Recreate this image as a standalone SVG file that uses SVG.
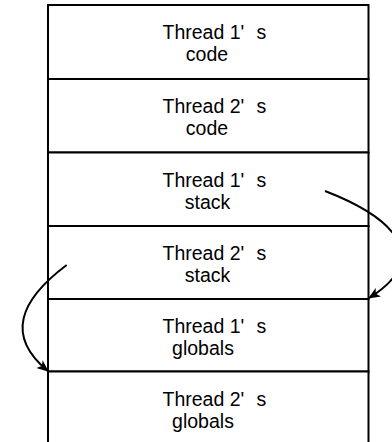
<svg xmlns="http://www.w3.org/2000/svg" width="392" height="442" viewBox="0 0 392 442">
  <style>
    .cell { fill: #ffffff; stroke: #000000; stroke-width: 2; }
    .label { font-family: "Liberation Sans", Arial, sans-serif; font-size: 19.5px; fill: #000000; }
    .mid { text-anchor: middle; }
    .link { fill: none; stroke: #000000; stroke-width: 2; }
  </style>
  <defs>
    <marker id="head" viewBox="0 0 12 10" refX="11" refY="5" markerWidth="12" markerHeight="10" markerUnits="userSpaceOnUse" orient="auto">
      <path d="M0,0 L12,5 L0,10 L3,5 Z" fill="#000000"/>
    </marker>
  </defs>

  <!-- address space, one cell per region -->
  <g id="t1-code">
    <rect class="cell" x="48" y="5" width="320.5" height="74"/>
    <text class="label" x="162.5" y="39">Thread 1'</text>
    <text class="label" x="256.5" y="39">s</text>
    <text class="label mid" x="207" y="61">code</text>
  </g>
  <g id="t2-code">
    <rect class="cell" x="48" y="79" width="320.5" height="73.5"/>
    <text class="label" x="162.5" y="113">Thread 2'</text>
    <text class="label" x="256.5" y="113">s</text>
    <text class="label mid" x="207" y="135">code</text>
  </g>
  <g id="t1-stack">
    <rect class="cell" x="48" y="152.5" width="320.5" height="73.5"/>
    <text class="label" x="162.5" y="186.5">Thread 1'</text>
    <text class="label" x="256.5" y="186.5">s</text>
    <text class="label mid" x="207.5" y="208.5">stack</text>
  </g>
  <g id="t2-stack">
    <rect class="cell" x="48" y="226" width="320.5" height="73"/>
    <text class="label" x="162.5" y="260">Thread 2'</text>
    <text class="label" x="256.5" y="260">s</text>
    <text class="label mid" x="207.5" y="282">stack</text>
  </g>
  <g id="t1-globals">
    <rect class="cell" x="48" y="299" width="320.5" height="72.5"/>
    <text class="label" x="162.5" y="333">Thread 1'</text>
    <text class="label" x="256.5" y="333">s</text>
    <text class="label mid" x="203" y="355">globals</text>
  </g>
  <g id="t2-globals">
    <rect class="cell" x="48" y="371.5" width="320.5" height="80"/>
    <text class="label" x="162.5" y="405.5">Thread 2'</text>
    <text class="label" x="256.5" y="405.5">s</text>
    <text class="label mid" x="203" y="427.5">globals</text>
  </g>

  <!-- pointers between regions -->
  <g id="connectors">
    <path class="link" d="M325,191 C400,220 430,260 369,298" marker-end="url(#head)"/>
    <path class="link" d="M66.7,265 C20,300 5,336 48,371" marker-end="url(#head)"/>
  </g>
</svg>
